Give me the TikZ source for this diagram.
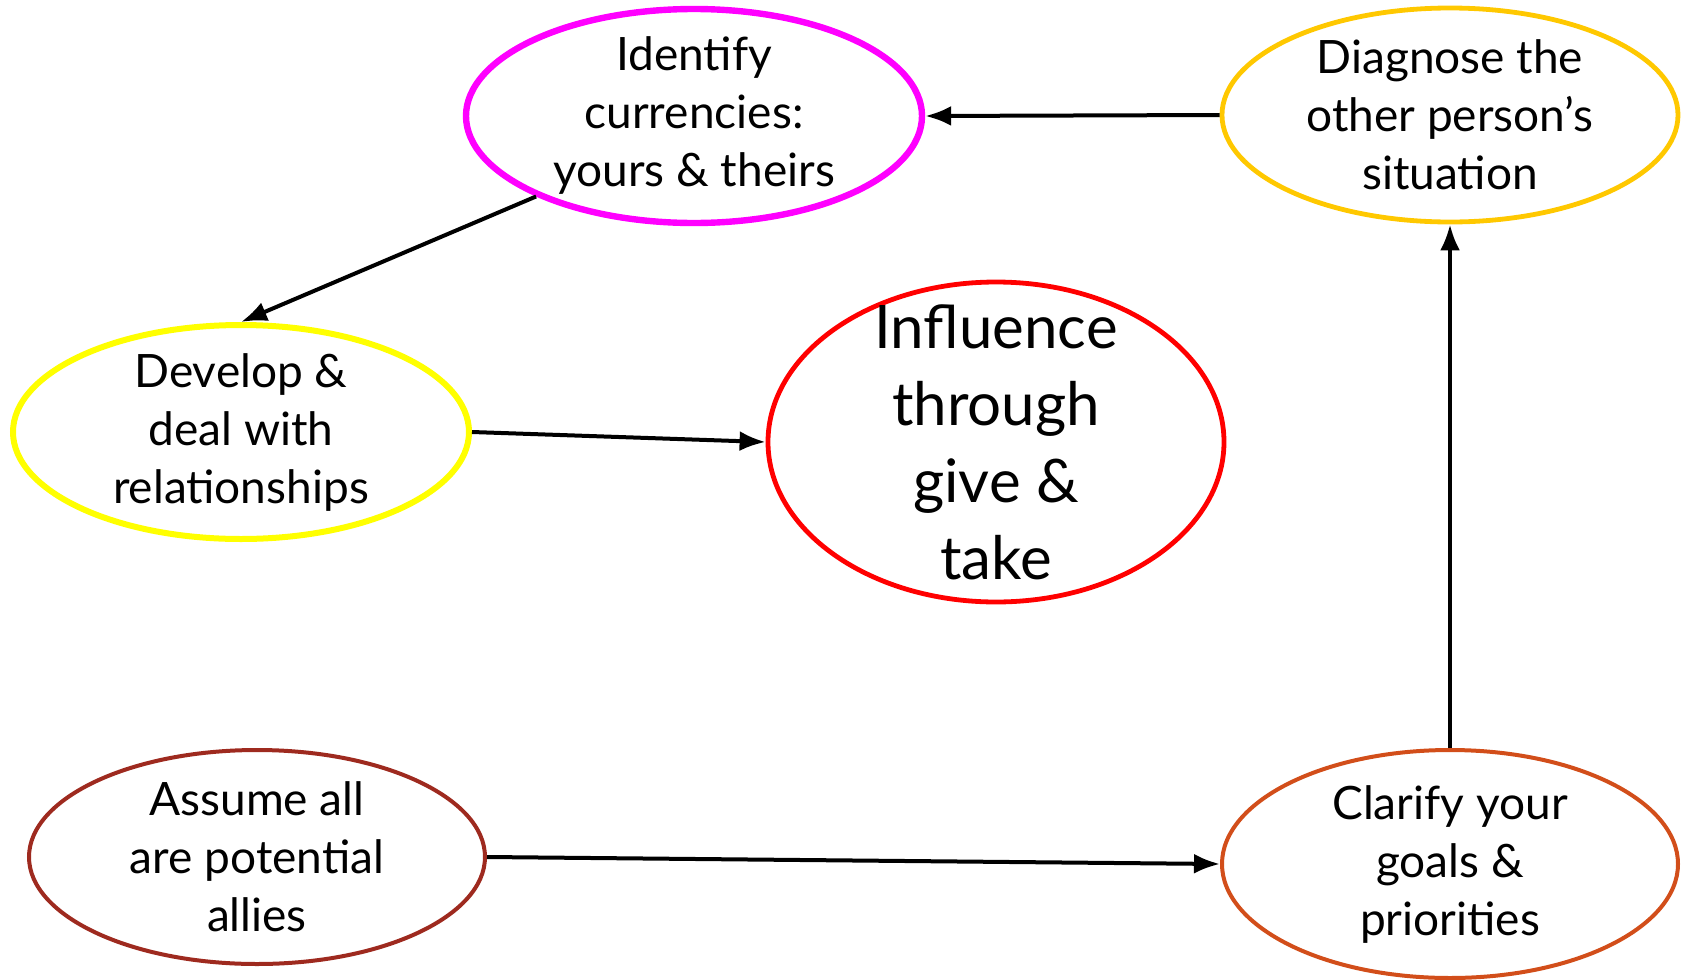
\documentclass[tikz,border=0pt]{standalone}
\usepackage{fontspec}
\setmainfont{Lato}
\usetikzlibrary{shapes.geometric}
\usetikzlibrary{arrows.meta}
\usetikzlibrary{positioning}

\definecolor{magentaring}{HTML}{FF00FF}
\definecolor{goldring}{HTML}{FFC800}
\definecolor{yellowring}{HTML}{FFFF00}
\definecolor{redring}{HTML}{FF0000}
\definecolor{brownring}{HTML}{9E2A1F}
\definecolor{rustring}{HTML}{D24E1A}

\begin{document}
\begin{tikzpicture}[x=0.5pt,y=-0.5pt,
    step oval/.style={ellipse,draw,inner sep=-10pt,line width=2pt,
      minimum width=228pt,minimum height=107pt,align=center,
      font=\fontsize{23}{29}\selectfont},
    flow/.style={-{Latex[length=13pt,width=10pt]},line width=2pt}]
        \useasboundingbox (0,0) rectangle (1682,980);

        \node[step oval,draw=magentaring,line width=3.2pt] (ident) at (694,116) {Identify\\currencies:\\yours \& theirs};
        \node[step oval,draw=goldring,line width=2.4pt] (diag) at (1450,115) {Diagnose the\\other person’s\\situation};
        \node[step oval,draw=yellowring,line width=3pt] (devel) at (241,432) {Develop \&\\deal with\\relationships};
        \node[step oval,draw=redring,line width=2.4pt,inner sep=-20pt,minimum height=160pt,
          font=\fontsize{30}{38.5}\selectfont] (infl) at (996,442) {Influence\\through\\give \&\\take};
        \node[step oval,draw=brownring] (assume) at (257,857) {Assume all\\are potential\\allies};
        \node[step oval,draw=rustring,minimum height=114pt] (clar) at (1450,864) {Clarify your\\goals \&\\priorities};

        \draw[flow] (diag.west) -- (ident.east);
        \draw[flow] (ident.207) -- (devel.north);
        \draw[flow] (devel.east) -- (infl.west);
        \draw[flow] (assume.east) -- (clar.west);
        \draw[flow] (clar.north) -- (diag.south);
      \end{tikzpicture}
\end{document}
